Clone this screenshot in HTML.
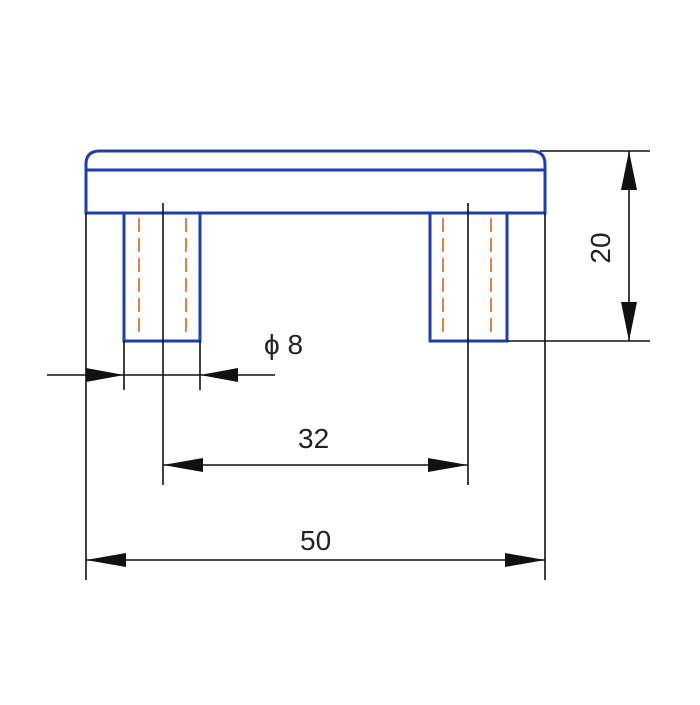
<!DOCTYPE html>
<html><head><style>body{margin:0;background:#fff}</style></head><body>
<svg width="700" height="700" viewBox="0 0 700 700" xmlns="http://www.w3.org/2000/svg">
<rect width="700" height="700" fill="#fff"/>
<g fill="none" stroke="#1f3fa8" stroke-width="3">
<path d="M86 213 V164 Q86 151 100 151 H531 Q545 151 545 164 V213 Z"/>
<line x1="86" y1="170" x2="545" y2="170"/>
<rect x="124" y="213" width="76" height="128"/>
<rect x="430" y="213" width="77" height="128"/>
</g>
<g stroke="#e08050" stroke-width="2" stroke-dasharray="14,6">
<line x1="139" y1="218" x2="139" y2="336"/>
<line x1="186" y1="218" x2="186" y2="336"/>
<line x1="443" y1="218" x2="443" y2="336"/>
<line x1="491" y1="218" x2="491" y2="336"/>
</g>
<g stroke="#111" stroke-width="1.6" fill="none">
<line x1="163" y1="203" x2="163" y2="485"/>
<line x1="468" y1="203" x2="468" y2="485"/>
<line x1="86" y1="213" x2="86" y2="580"/>
<line x1="545" y1="213" x2="545" y2="580"/>
<line x1="124" y1="341" x2="124" y2="390"/>
<line x1="200" y1="341" x2="200" y2="390"/>
<line x1="540" y1="151" x2="650" y2="151"/>
<line x1="507" y1="341" x2="650" y2="341"/>
<line x1="629" y1="151" x2="629" y2="341"/>
<line x1="47" y1="375" x2="275" y2="375"/>
<line x1="163" y1="465" x2="468" y2="465"/>
<line x1="86" y1="560" x2="545" y2="560"/>
</g>
<g fill="#111">
<polygon points="629,151 621,190 637,190"/>
<polygon points="629,341 621,302 637,302"/>
<polygon points="124,375 86,368 86,382"/>
<polygon points="200,375 238,368 238,382"/>
<polygon points="163,465 203,458 203,472"/>
<polygon points="468,465 428,458 428,472"/>
<polygon points="86,560 126,553 126,567"/>
<polygon points="545,560 505,553 505,567"/>
</g>
<g font-family="Liberation Sans, sans-serif" font-size="28" fill="#222">
<text x="264" y="354">ϕ 8</text>
<text x="298" y="448">32</text>
<text x="300" y="550">50</text>
<text transform="translate(610,248) rotate(-90)" text-anchor="middle">20</text>
</g>
</svg>
</body></html>
